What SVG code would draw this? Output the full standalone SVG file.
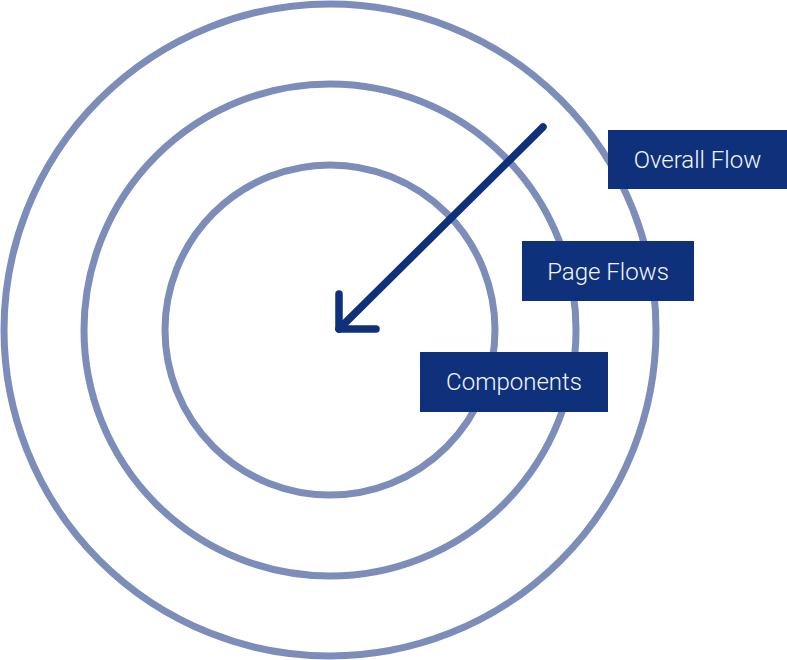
<svg xmlns="http://www.w3.org/2000/svg" width="787" height="660" viewBox="0 0 787 660">
  <style>
    .ring { fill: none; stroke: #7b8db8; stroke-width: 7; }
    .box { fill: #0f317c; }
    .label { fill: #f4f6fb; font-family: Roboto, "Liberation Sans", sans-serif; font-weight: 300; font-size: 24px; text-anchor: middle; }
    .arrow { fill: none; stroke: #0f317c; stroke-width: 7.5; stroke-linecap: round; stroke-linejoin: round; }
  </style>
  <rect width="787" height="660" fill="#ffffff"/>

  <!-- concentric scopes -->
  <g id="ring-overall"><circle class="ring" cx="330" cy="330" r="326"/></g>
  <g id="ring-pages"><circle class="ring" cx="330" cy="330" r="246"/></g>
  <g id="ring-components"><circle class="ring" cx="330" cy="330" r="165"/></g>

  <!-- inward arrow -->
  <g id="connectors">
    <path class="arrow" d="M543,127 L339,329"/>
    <path class="arrow" d="M339,294 L339,329 L376,329"/>
  </g>

  <!-- labels -->
  <g id="overall-flow">
    <rect class="box" x="608" y="130" width="179" height="59"/>
    <text class="label" x="697.5" y="167.5">Overall Flow</text>
  </g>
  <g id="page-flows">
    <rect class="box" x="522" y="241" width="172" height="60"/>
    <text class="label" x="608" y="279.5">Page Flows</text>
  </g>
  <g id="components">
    <rect class="box" x="420" y="352" width="188" height="60"/>
    <text class="label" x="514" y="390">Components</text>
  </g>
</svg>
